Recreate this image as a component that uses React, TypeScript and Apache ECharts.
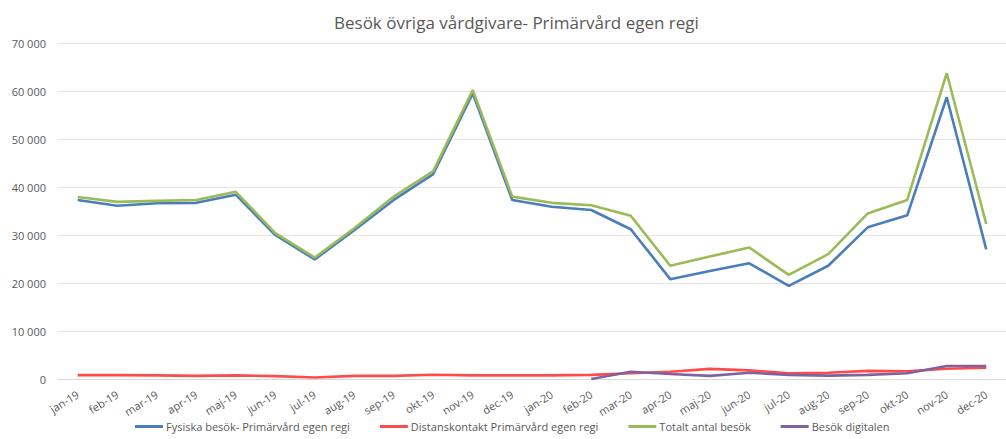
import React, { useEffect, useRef } from "react";
import * as echarts from "echarts";

const categories = [
  "jan-19", "feb-19", "mar-19", "apr-19", "maj-19", "jun-19", "jul-19", "aug-19", "sep-19", "okt-19", "nov-19", "dec-19",
  "jan-20", "feb-20", "mar-20", "apr-20", "maj-20", "jun-20", "jul-20", "aug-20", "sep-20", "okt-20", "nov-20", "dec-20",
];

const fysiska = [
  37300, 36100, 36600, 36700, 38400, 30000, 24900, 31000, 37300, 42700, 59500, 37300,
  35900, 35200, 31200, 20800, 22500, 24100, 19400, 23600, 31600, 34100, 58700, 27000,
];

const distans = [
  800, 800, 750, 650, 750, 600, 300, 650, 650, 900, 750, 750,
  750, 850, 1200, 1500, 2100, 1800, 1200, 1300, 1700, 1600, 2150, 2350,
];

const totalt = [
  37900, 36900, 37100, 37300, 39000, 30400, 25300, 31400, 38000, 43300, 60200, 38000,
  36700, 36200, 34000, 23600, 25500, 27400, 21700, 26000, 34500, 37300, 63700, 32300,
];

const digitalen: (number | null)[] = [
  null, null, null, null, null, null, null, null, null, null, null, null,
  null, 0, 1500, 1050, 650, 1300, 850, 700, 850, 1200, 2700, 2700,
];

const seriesNames = [
  "Fysiska besök- Primärvård egen regi",
  "Distanskontakt Primärvård egen regi",
  "Totalt antal besök",
  "Besök digitalen",
];

const colors = ["#4a7ebb", "#ff4b4b", "#9bbb59", "#7f63a1"];

export default function App() {
  const ref = useRef<HTMLDivElement>(null);
  useEffect(() => {
    if (!ref.current) return;
    const chart = echarts.init(ref.current, undefined, { renderer: "svg" });
    const font = "'Open Sans', 'Liberation Sans', sans-serif";
    const dataSets = [fysiska, distans, totalt, digitalen];
    chart.setOption({
      animation: false,
      backgroundColor: "#ffffff",
      textStyle: { fontFamily: font },
      title: {
        text: "Besök övriga vårdgivare- Primärvård egen regi",
        left: 329,
        top: 9,
        textStyle: { fontFamily: font, fontSize: 17, fontWeight: "normal", color: "#595959" },
      },
      color: colors,
      legend: {
        top: 421,
        left: 135,
        padding: 0,
        icon: "rect",
        itemWidth: 28,
        itemHeight: 3,
        itemGap: 30,
        textStyle: { fontFamily: font, fontSize: 11, color: "#595959", padding: [0, 0, 0, -2] },
        data: seriesNames,
      },
      grid: { left: 58, right: -14.4, top: 43, bottom: 60, containLabel: false },
      xAxis: {
        type: "category",
        data: categories,
        boundaryGap: true,
        axisLine: { lineStyle: { color: "#d9d9d9" } },
        axisTick: { show: false },
        axisLabel: { rotate: 32, color: "#595959", fontSize: 11, fontFamily: font, margin: 14, interval: 0 },
      },
      yAxis: {
        type: "value",
        min: 0,
        max: 70000,
        interval: 10000,
        axisLine: { show: false },
        axisTick: { show: false },
        axisLabel: {
          color: "#595959",
          fontSize: 11,
          fontFamily: font,
          margin: 12,
          formatter: (v: number) => (v === 0 ? "0" : String(v).replace(/\B(?=(\d{3})+(?!\d))/g, " ")),
        },
        splitLine: { lineStyle: { color: "#e6e6e6", width: 1 } },
      },
      series: seriesNames.map((name, i) => ({
        name,
        type: "line",
        data: dataSets[i],
        symbol: "none",
        connectNulls: false,
        lineStyle: { width: 2.6, color: colors[i] },
        itemStyle: { color: colors[i] },
      })),
    });
    return () => chart.dispose();
  }, []);
  return <div ref={ref} style={{ position: "fixed", left: 0, top: 0, width: 1006, height: 439 }} />;
}
